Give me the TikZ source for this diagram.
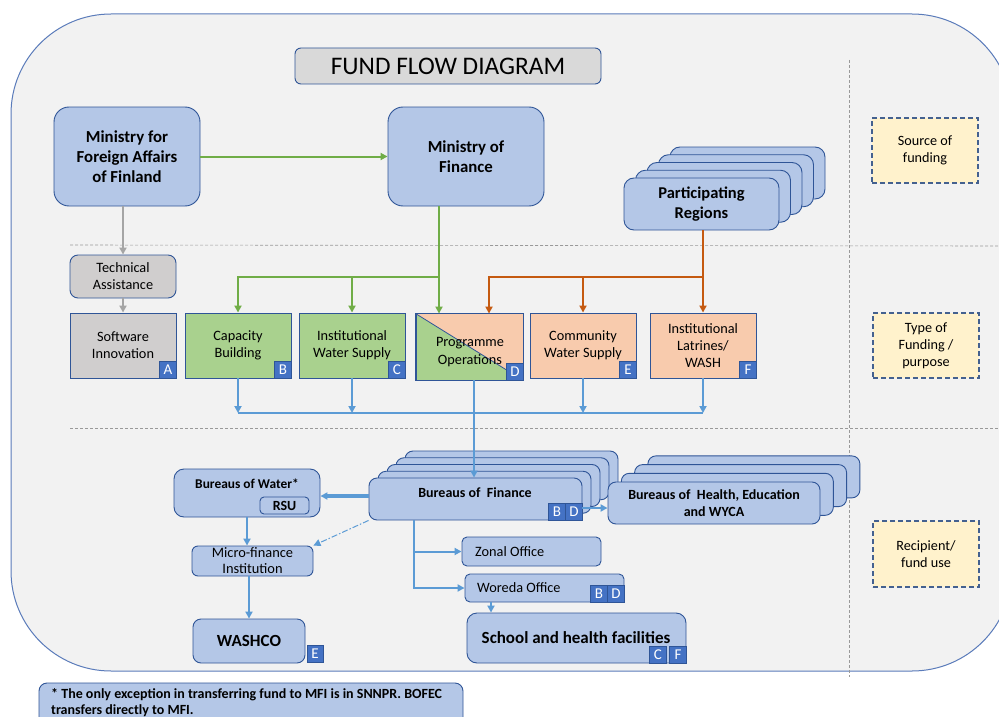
\documentclass[tikz,border=0pt]{standalone}
\usepackage{fontspec}
\setmainfont{Carlito}
\usetikzlibrary{arrows.meta}
\definecolor{frameF}{HTML}{F2F2F2}
\definecolor{frameD}{HTML}{5A7BBA}
\definecolor{bbox}{HTML}{B4C7E7}
\definecolor{bdr}{HTML}{2F5597}
\definecolor{gbox}{HTML}{D0CECE}
\definecolor{tbox}{HTML}{D9D9D9}
\definecolor{grn}{HTML}{A9D18E}
\definecolor{pch}{HTML}{F8CBAD}
\definecolor{lblc}{HTML}{4472C4}
\definecolor{leg}{HTML}{FFF2CC}
\definecolor{legd}{HTML}{44618F}
\definecolor{ga}{HTML}{70AD47}
\definecolor{oa}{HTML}{C55A11}
\definecolor{gra}{HTML}{A5A5A5}
\definecolor{ba}{HTML}{5B9BD5}
\newcommand{\fs}[2]{\fontsize{#1}{#2}\selectfont}
\tikzset{
  base/.style={draw=bdr, line width=0.9pt, inner sep=0pt, align=center},
  rbox/.style={base, fill=bbox, rounded corners=#1},
  rbox/.default=8pt,
  sqbox/.style={base},
  lbl/.style={draw=bdr, line width=0.5pt, fill=lblc, text=white, inner sep=0pt,
     minimum width=16.5pt, minimum height=16.5pt, font=\fs{15}{15}},
  legbox/.style={draw=legd, line width=1.1pt, dash pattern=on 5pt off 3pt, fill=leg, inner sep=0pt,
     align=center, minimum width=106pt, minimum height=65pt, font=\fs{14.2}{17}},
  divider/.style={draw=gray!80, line width=0.6pt, densely dashed},
  tip/.style={-{Triangle[length=7pt,width=7pt]}},
  garrow/.style={tip, draw=ga, line width=2pt},
  oarrow/.style={tip, draw=oa, line width=2pt},
  grarrow/.style={tip, draw=gra, line width=2.5pt},
  barrow/.style={tip, draw=ba, line width=2pt},
  bline/.style={draw=ba, line width=2pt},
  ftext/.style={font=\fs{14.3}{17}},
}
\begin{document}
\begin{tikzpicture}[x=1pt,y=-1pt]
\useasboundingbox (0,0) rectangle (999,717);
\begin{scope}
\clip (0,0) rectangle (999,717);
% frame
\draw[frameD, fill=frameF, line width=1pt, rounded corners=100pt] (11,14) rectangle (1012,671);
% dividers
\draw[divider] (70,245) -- (1000,246);
\draw[divider] (70,428) -- (1000,428);
\draw[divider] (849,60) -- (849,677);

% title
\node[base, fill=tbox, rounded corners=6pt, minimum width=306pt, minimum height=36pt,
  font=\fs{25.3}{28}] (title) at (448,66) {FUND FLOW DIAGRAM};

% top row
\node[rbox=15pt, minimum width=146pt, minimum height=99pt, font=\bfseries\fs{16.8}{20}] (mfa) at (127,156.5)
  {Ministry for\\Foreign Affairs\\of Finland};
\node[rbox=15pt, minimum width=156pt, minimum height=99pt, font=\bfseries\fs{16.8}{20}] (mof) at (466,156.5)
  {Ministry of\\Finance};
% participating regions stack
\foreach \k in {4,3,2,1}{
  \node[rbox=10pt, minimum width=155pt, minimum height=52pt] (pr\k) at (701.5+11.5*\k,204-7.75*\k) {};
}
\node[rbox=10pt, minimum width=155pt, minimum height=52pt, font=\bfseries\fs{16.5}{19.5}] (pr) at (701.5,204)
  {Participating\\Regions};

% legend
\node[legbox] (src) at (925,150.5) {Source of\\funding};
\node[legbox] (typ) at (926,345.5) {Type of\\Funding /\\purpose};
\node[legbox, minimum height=66pt] (rec) at (926,554) {Recipient/\\fund use};

% funding types
\node[base, fill=gbox, rounded corners=8pt, minimum width=106pt, minimum height=43pt, ftext] (ta) at (123,276.5)
  {Technical\\Assistance};
\node[sqbox, fill=gbox, minimum width=106pt, minimum height=65pt, ftext] (si) at (123,345.5)
  {Software\\Innovation};
\node[sqbox, fill=grn, minimum width=106pt, minimum height=65pt, ftext] (cb) at (238,345.5)
  {Capacity\\Building};
\node[sqbox, fill=grn, minimum width=106pt, minimum height=65pt, ftext] (iws) at (352,345.5)
  {Institutional\\Water Supply};
\node[sqbox, fill=grn, minimum width=107pt, minimum height=66pt] (po) at (469.5,347) {};
\fill[pch] (po.north west) -- (po.north east) -- (po.south east) -- cycle;
\draw[bdr, line width=0.8pt] (po.north west) -- (po.south east);
\draw[bdr, line width=0.9pt] (po.north west) rectangle (po.south east);
\node[align=center, font=\fs{14.3}{18}, inner sep=0pt] (pot) at (470,352) {Programme\\Operations};
\node[sqbox, fill=pch, minimum width=106pt, minimum height=65pt, ftext] (cws) at (583,345.5)
  {Community\\Water Supply};
\node[sqbox, fill=pch, minimum width=106pt, minimum height=65pt, ftext] (ilw) at (703,345.5)
  {Institutional\\Latrines/\\WASH};
\node[lbl, anchor=south east] (la) at (si.south east) {A};
\node[lbl, anchor=south east] (lb) at (cb.south east) {B};
\node[lbl, anchor=south east] (lc) at (iws.south east) {C};
\node[lbl, anchor=south east] (ld) at (po.south east) {D};
\node[lbl, anchor=south east] (le) at (cws.south east) {E};
\node[lbl, anchor=south east] (lf) at (ilw.south east) {F};

% recipients
\foreach \k in {4,3,2,1}{
  \node[rbox=8pt, minimum width=213pt, minimum height=42pt] (bof\k) at (475.5+9*\k,499-6.75*\k) {};
}
\node[rbox=8pt, minimum width=213pt, minimum height=42pt] (bof) at (475.5,499) {};
\node[font=\bfseries\fs{14}{16}, inner sep=0pt] (boft) at (475,493) {Bureaus of\ \ Finance};
\node[lbl, anchor=south east] (bofd) at (bof.south east) {D};
\node[lbl, anchor=south east] (bofb) at (bofd.south west) {B};

\foreach \k in {3,2,1}{
  \node[rbox=8pt, minimum width=212pt, minimum height=42pt] (hea\k) at (714+13.3*\k,503-8.7*\k) {};
}
\node[rbox=8pt, minimum width=212pt, minimum height=42pt, font=\bfseries\fs{14}{17}] (hea) at (714,503)
  {Bureaus of\ \ Health, Education\\and WYCA};

\node[rbox=10pt, minimum width=146pt, minimum height=48pt] (bow) at (247,493) {};
\node[font=\bfseries\fs{13.4}{15}, inner sep=0pt] (bowt) at (247,484) {Bureaus of Water*};
\node[rbox=4pt, minimum width=49pt, minimum height=17pt, font=\bfseries\fs{14}{14}] (rsu) at (284.5,505.5) {RSU};

\node[rbox=6pt, minimum width=121pt, minimum height=30pt, font=\fs{14.4}{16}] (mfi) at (252.5,561)
  {Micro-finance\\Institution};
\node[rbox=8pt, minimum width=112pt, minimum height=44pt, font=\bfseries\fs{17}{18}] (washco) at (249,641) {WASHCO};
\node[lbl] (washe) at (315,653.5) {E};

\node[rbox=5pt, minimum width=139pt, minimum height=29pt] (zonal) at (531.5,551.5) {};
\node[font=\fs{14.3}{15}, inner sep=0pt, anchor=west] (zonalt) at (475,552) {Zonal Office};
\node[rbox=5pt, minimum width=159pt, minimum height=28pt] (woreda) at (544.5,588) {};
\node[font=\fs{14.3}{15}, inner sep=0pt, anchor=west] (woredat) at (477,588) {Woreda Office};
\node[lbl, anchor=south east] (word) at (woreda.south east) {D};
\node[lbl, anchor=south east] (worb) at (word.south west) {B};

\node[rbox=10pt, minimum width=219pt, minimum height=50pt] (school) at (576.5,638) {};
\node[font=\bfseries\fs{17}{18}, inner sep=0pt] (schoolt) at (576,638) {School and health facilities};
\node[lbl, anchor=south east] (schf) at (school.south east) {F};
\node[lbl, anchor=south east] (schc) at ([xshift=-3pt]schf.south west) {C};

% footnote
\node[rbox=8pt, minimum width=424pt, minimum height=50pt] (foot) at (251,708) {};
\node[font=\bfseries\fs{14}{16.5}, align=left, anchor=north west, inner sep=0pt] (foott) at (51,688)
  {* The only exception in transferring fund to MFI is in SNNPR. BOFEC\\transfers directly to MFI.};

% ---------------- connectors
\draw[grarrow] (ta.north |- mfa.south) -- (ta.north);
\draw[grarrow] (ta.south) -- (si.north);
\draw[garrow] (mfa.east) -- (mof.west);
\coordinate (gj) at (439,277);
\draw[garrow] (mof.south -| gj) -- (po.north -| gj);
\draw[garrow] (gj) -| (cb.north);
\draw[garrow] (iws.north |- gj) -- (iws.north);
\coordinate (oj) at (703,277);
\coordinate (oj2) at (489,277);
\draw[oarrow] (pr.south -| oj) -- (ilw.north -| oj);
\draw[oarrow] (oj) -- (oj2) -- (po.north -| oj2);
\draw[oarrow] (cws.north |- oj) -- (cws.north);
% blue pooling
\coordinate (bj) at (238,413);
\draw[bline] (cb.south |- bj) -- (ilw.south |- bj);
\draw[barrow] (cb.south) -- (cb.south |- bj);
\draw[barrow] (iws.south) -- (iws.south |- bj);
\draw[barrow] (cws.south) -- (cws.south |- bj);
\draw[barrow] (ilw.south) -- (ilw.south |- bj);
\coordinate (pj) at (474,380);
\draw[barrow] (po.south -| pj) -- (bof.north -| pj);
% lower
\coordinate (bw) at (369,496);
\draw[tip, draw=ba, line width=3.5pt] (bof.west |- bw) -- (bow.east |- bw);
\draw[-{Triangle[length=7pt,width=7pt]}, draw=ba, line width=1pt, dash pattern=on 6pt off 2pt on 1.5pt off 2pt]
  (bof.south west) -- (mfi.north east);
\draw[barrow] (bow.south) -- (bow.south |- mfi.north);
\draw[barrow] (washco.north |- mfi.south) -- (washco.north);
\coordinate (zx) at (414,520);
\draw[barrow] (zx) |- (woreda.west);
\draw[barrow] (zx |- zonal.west) -- (zonal.west);
\coordinate (wx) at (491,602);
\draw[barrow] (woreda.south -| wx) -- (school.north -| wx);
\coordinate (hx) at (600,508);
\draw[barrow] (bof.east |- hx) -- (hea.west |- hx);
\end{scope}
\end{tikzpicture}
\end{document}
